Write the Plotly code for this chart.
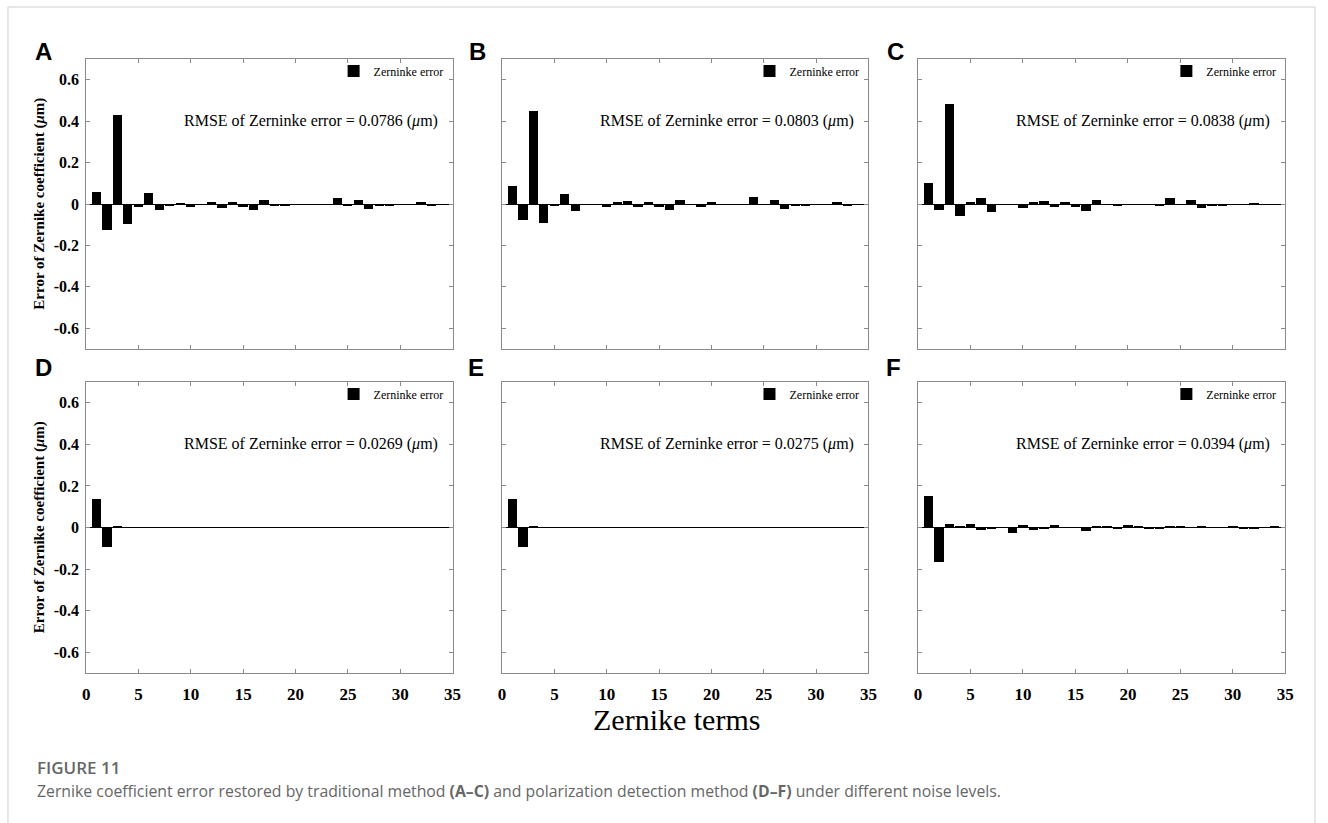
import plotly.graph_objects as go
from plotly.subplots import make_subplots

# ---------------- data ----------------
terms = list(range(1, 36))

panel_a = [0.058, -0.124, 0.432, -0.098, -0.013, 0.052, -0.027, -0.005, 0.002, -0.016,
           0.000, 0.011, -0.018, 0.011, -0.014, -0.029, 0.021, -0.008, -0.008, 0.000,
           0.000, 0.000, -0.002, 0.031, -0.008, 0.018, -0.022, -0.008, -0.005, 0.000,
           0.000, 0.005, -0.008, 0.000, 0.000]
panel_b = [0.085, -0.079, 0.451, -0.092, -0.011, 0.048, -0.034, 0.000, 0.000, -0.015,
           0.006, 0.013, -0.016, 0.011, -0.014, -0.027, 0.021, 0.000, -0.013, 0.006,
           0.000, -0.003, -0.004, 0.034, -0.004, 0.018, -0.024, -0.006, -0.011, 0.000,
           0.000, 0.005, -0.006, 0.000, 0.000]
panel_c = [0.101, -0.029, 0.481, -0.056, 0.008, 0.029, -0.040, 0.000, 0.000, -0.019,
           0.011, 0.013, -0.014, 0.010, -0.013, -0.032, 0.019, -0.003, -0.006, 0.000,
           0.000, 0.000, -0.005, 0.031, -0.003, 0.018, -0.021, -0.006, -0.011, 0.000,
           0.000, 0.003, 0.000, 0.000, 0.000]
panel_d = [0.135, -0.092, 0.005, -0.002, -0.002, 0.001, -0.002, 0.001, -0.001, -0.002,
           0.001, -0.002, -0.001, 0.001, -0.002, -0.002, 0.001, -0.001, -0.002, 0.001,
           -0.002, 0.001, -0.002, -0.001, 0.001, -0.002, -0.001, 0.001, -0.002, -0.001,
           0.001, -0.002, -0.001, 0.001, 0.000]
panel_e = [0.137, -0.095, 0.008, -0.002, -0.001, 0.001, -0.002, -0.001, 0.001, -0.002,
           -0.001, 0.001, -0.002, -0.001, -0.002, 0.001, -0.002, -0.001, 0.001, -0.002,
           -0.002, 0.001, -0.001, -0.002, 0.001, -0.001, -0.002, 0.001, -0.002, -0.001,
           -0.002, 0.001, -0.002, -0.001, 0.000]
panel_f = [0.151, -0.168, 0.018, 0.003, 0.016, -0.013, -0.003, -0.002, -0.027, 0.014,
           -0.014, -0.003, 0.010, 0.002, 0.000, -0.016, 0.003, 0.003, -0.004, 0.010,
           0.007, -0.003, -0.005, 0.003, 0.004, 0.002, 0.006, 0.000, 0.000, 0.007,
           -0.003, -0.004, 0.002, 0.008, 0.000]

panel_values = [panel_a, panel_b, panel_c, panel_d, panel_e, panel_f]
panel_letters = ["A", "B", "C", "D", "E", "F"]
rmse_values = ["0.0786", "0.0803", "0.0838", "0.0269", "0.0275", "0.0394"]
series_name = "Zerninke error"

x_ticks = [0, 5, 10, 15, 20, 25, 30, 35]
x_tick_text = ["0", "5", "10", "15", "20", "25", "30", "35"]
y_ticks = [-0.6, -0.4, -0.2, 0, 0.2, 0.4, 0.6]
y_tick_text = ["-0.6", "-0.4", "-0.2", "0", "0.2", "0.4", "0.6"]

# ---------------- layout geometry (pixels) ----------------
W, H = 1328, 823
col_px = [(83, 453), (503, 873), (923, 1294)]
row_px = [(59, 349), (382, 673)]
letter_pos = [(40, 52), (478, 52), (900, 52), (40, 367), (477, 367), (898, 367)]

def fx(px):
    return px / W

def fy(py):
    return 1 - py / H

SERIF = "Liberation Serif"
SANS = "Liberation Sans"
CAP = "Open Sans"
AXIS_GREY = "#8a8a8a"

fig = make_subplots(rows=2, cols=3)

annotations = []
for i, vals in enumerate(panel_values):
    r, c = divmod(i, 3)
    n = i + 1
    legend_key = "legend" if n == 1 else f"legend{n}"
    fig.add_trace(
        go.Bar(x=terms, y=vals, width=0.88, name=series_name,
               marker=dict(color="black", line=dict(width=0)),
               legend=legend_key, showlegend=True),
        row=r + 1, col=c + 1)

    x0, x1 = col_px[c]
    y0, y1 = row_px[r]
    fig.update_xaxes(
        row=r + 1, col=c + 1,
        domain=[fx(x0), fx(x1)], range=[0, 35], tickmode="array",
        tickvals=x_ticks, ticktext=[f"<b>{t}</b>" for t in x_tick_text],
        showticklabels=(r == 1), ticks="inside", ticklen=4, tickcolor=AXIS_GREY,
        showline=True, linecolor=AXIS_GREY, linewidth=1, mirror="ticks",
        showgrid=False, zeroline=False, ticklabelstandoff=6,
        tickfont_family=SERIF, tickfont_size=17, tickfont_color="black")
    fig.update_yaxes(
        row=r + 1, col=c + 1,
        domain=[fy(y1), fy(y0)], range=[-0.7, 0.7], tickmode="array",
        tickvals=y_ticks, ticktext=[f"<b>{t}</b>" for t in y_tick_text],
        showticklabels=(c == 0), ticks="inside",
        ticklen=4, tickcolor=AXIS_GREY, showline=True, linecolor=AXIS_GREY,
        linewidth=1, mirror="ticks", showgrid=False, zeroline=True,
        zerolinecolor="black", zerolinewidth=1, ticklabelstandoff=3,
        tickfont_family=SERIF, tickfont_size=16, tickfont_color="black")

    fig.layout[legend_key] = dict(
        x=fx(x1 - 4), y=fy(y0 + 12), xanchor="right", yanchor="middle",
        bgcolor="rgba(0,0,0,0)", borderwidth=0, itemwidth=30,
        font=dict(family=SERIF, size=12, color="black"))

    xd = "x domain" if n == 1 else f"x{n} domain"
    yd = "y domain" if n == 1 else f"y{n} domain"
    annotations.append(dict(
        text=f"RMSE of Zerninke error = {rmse_values[i]} (<i>μ</i>m)",
        xref=xd, yref=yd, x=0.965, y=0.786, xanchor="right", yanchor="middle",
        showarrow=False, font=dict(family=SERIF, size=16, color="black")))

    lx, ly = letter_pos[i]
    annotations.append(dict(
        text=f"<b>{panel_letters[i]}</b>", xref="paper", yref="paper",
        x=fx(lx), y=fy(ly), xanchor="center", yanchor="middle", showarrow=False,
        font=dict(family=SANS, size=24, color="black")))

# y-axis titles (one per row)
for (y0, y1) in row_px:
    annotations.append(dict(
        text="<b>Error of Zernike coefficient (<i>μ</i>m)</b>", textangle=-90,
        xref="paper", yref="paper", x=fx(36), y=fy((y0 + y1) / 2),
        xanchor="center", yanchor="middle", showarrow=False,
        font=dict(family=SERIF, size=15, color="black")))

# shared x-axis title
annotations.append(dict(
    text="Zernike terms", xref="paper", yref="paper", x=fx(679), y=fy(719),
    xanchor="center", yanchor="middle", showarrow=False,
    font=dict(family=SERIF, size=30, color="black")))

# caption
annotations.append(dict(
    text="FIGURE 11", xref="paper", yref="paper", x=fx(31), y=fy(767),
    xanchor="left", yanchor="middle", showarrow=False,
    font=dict(family=CAP, size=17, color="#666666", weight=600)))
annotations.append(dict(
    text=("Zernike coefficient error restored by traditional method <b>(A–C)</b> and "
          "polarization detection method <b>(D–F)</b> under different noise levels."),
    xref="paper", yref="paper", x=fx(31), y=fy(791),
    xanchor="left", yanchor="middle", showarrow=False,
    font=dict(family=CAP, size=15.8, color="#666666")))

# page frame
frame = dict(color="#cfcfcf", width=1)
shapes = [
    dict(type="line", xref="paper", yref="paper", x0=fx(4), x1=fx(1324), y0=fy(7), y1=fy(7), line=frame),
    dict(type="line", xref="paper", yref="paper", x0=fx(4), x1=fx(4), y0=fy(7), y1=0, line=frame),
    dict(type="line", xref="paper", yref="paper", x0=fx(1324), x1=fx(1324), y0=fy(7), y1=0, line=frame),
]

fig.update_layout(
    width=W, height=H, margin=dict(l=0, r=0, t=0, b=0),
    paper_bgcolor="white", plot_bgcolor="white",
    annotations=annotations, shapes=shapes, bargap=0)

fig.write_html("out.html")
